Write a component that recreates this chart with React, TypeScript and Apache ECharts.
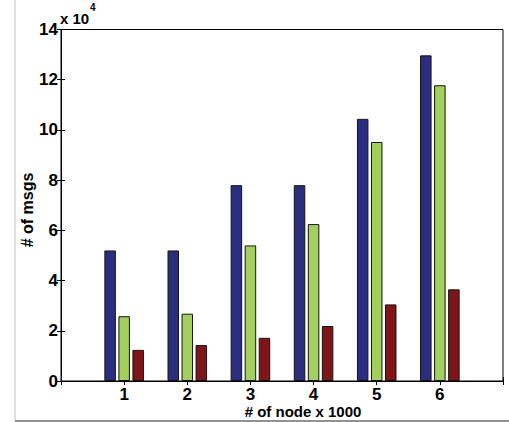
import React, { useEffect, useRef } from "react";
import * as echarts from "echarts";

const categories = [1, 2, 3, 4, 5, 6];
const seriesBlue = [52000, 52000, 78000, 78000, 104400, 129700];
const seriesGreen = [25800, 26800, 54000, 62500, 95200, 117800];
const seriesRed = [12400, 14300, 17200, 21900, 30500, 36500];
const yTicks = [0, 20000, 40000, 60000, 80000, 100000, 120000, 140000];
const scaleLabel = "x 10";
const scaleExp = "4";
const xTitle = "# of node x 1000";
const yTitle = "# of msgs";

const FONT = "Liberation Sans, Arial, Helvetica, sans-serif";

export default function App() {
  const ref = useRef<HTMLDivElement>(null);
  useEffect(() => {
    document.body.style.margin = "0";
    const chart = echarts.init(ref.current!, null, { renderer: "svg" });
    const mk = (vals: number[]) => categories.map((c, i) => [c, vals[i]]);
    const barStyle = (color: string) => ({
      color,
      borderColor: "#141414",
      borderWidth: 1,
    });
    const textStyle = { fontFamily: FONT, fontWeight: "bold" as const, fontSize: 17, color: "#000" };
    chart.setOption({
      animation: false,
      backgroundColor: "#fff",
      grid: {
        left: 61,
        top: 29.5,
        right: 6,
        bottom: 41,
        show: true,
        borderColor: "#000",
        borderWidth: 1,
        backgroundColor: "transparent",
      },
      xAxis: [
        {
          type: "value",
          min: 0,
          max: 7,
          interval: 1,
          position: "bottom",
          axisLine: { show: true, lineStyle: { color: "#000", width: 1 } },
          axisTick: { show: true, inside: true, length: 4, lineStyle: { color: "#000" } },
          splitLine: { show: false },
          axisLabel: {
            ...textStyle,
            margin: 5,
            formatter: (v: number) => (categories.includes(v) ? String(v) : ""),
          },
        },
        {
          type: "value",
          min: 0,
          max: 7,
          interval: 1,
          position: "top",
          axisLine: { show: true, lineStyle: { color: "#000", width: 1 } },
          axisTick: { show: true, inside: true, length: 4, lineStyle: { color: "#000" } },
          splitLine: { show: false },
          axisLabel: { show: false },
        },
      ],
      yAxis: [
        {
          type: "value",
          min: yTicks[0],
          max: yTicks[yTicks.length - 1],
          interval: 20000,
          position: "left",
          axisLine: { show: true, lineStyle: { color: "#000", width: 1 } },
          axisTick: { show: true, inside: true, length: 4, lineStyle: { color: "#000" } },
          splitLine: { show: false },
          axisLabel: { ...textStyle, margin: 3, formatter: (v: number) => String(v / 10000) },
        },
        {
          type: "value",
          min: yTicks[0],
          max: yTicks[yTicks.length - 1],
          interval: 20000,
          position: "right",
          axisLine: { show: true, lineStyle: { color: "#000", width: 1 } },
          axisTick: { show: true, inside: true, length: 4, lineStyle: { color: "#000" } },
          splitLine: { show: false },
          axisLabel: { show: false },
        },
      ],
      series: [
        { type: "bar", data: mk(seriesBlue), barWidth: 11.5, barGap: "22%", itemStyle: barStyle("#2B2E7E") },
        { type: "bar", data: mk(seriesGreen), barWidth: 11.5, barGap: "22%", itemStyle: barStyle("#A3CF5F") },
        { type: "bar", data: mk(seriesRed), barWidth: 11.5, barGap: "22%", itemStyle: barStyle("#7E1518") },
      ],
      graphic: [
        { type: "line", shape: { x1: 15, y1: 0, x2: 15, y2: 421 }, style: { stroke: "#c4c4c4", lineWidth: 1 } },
        { type: "line", shape: { x1: 15, y1: 421, x2: 509, y2: 421 }, style: { stroke: "#6e6e6e", lineWidth: 1.5 } },
        {
          type: "text",
          left: 60,
          top: 11,
          style: { text: scaleLabel, font: `bold 15px ${FONT}`, fill: "#000" },
        },
        {
          type: "text",
          left: 90,
          top: 2,
          style: { text: scaleExp, font: `bold 10px ${FONT}`, fill: "#000" },
        },
        {
          type: "text",
          x: 303,
          y: 411,
          style: { text: xTitle, font: `bold 15px ${FONT}`, fill: "#000", align: "center", verticalAlign: "middle" },
        },
        {
          type: "text",
          x: 27,
          y: 210,
          rotation: Math.PI / 2,
          style: { text: yTitle, font: `bold 16px ${FONT}`, fill: "#000", align: "center", verticalAlign: "middle" },
        },
      ],
    });
    return () => chart.dispose();
  }, []);
  return <div ref={ref} style={{ position: "fixed", left: 0, top: 0, width: 509, height: 422 }} />;
}
